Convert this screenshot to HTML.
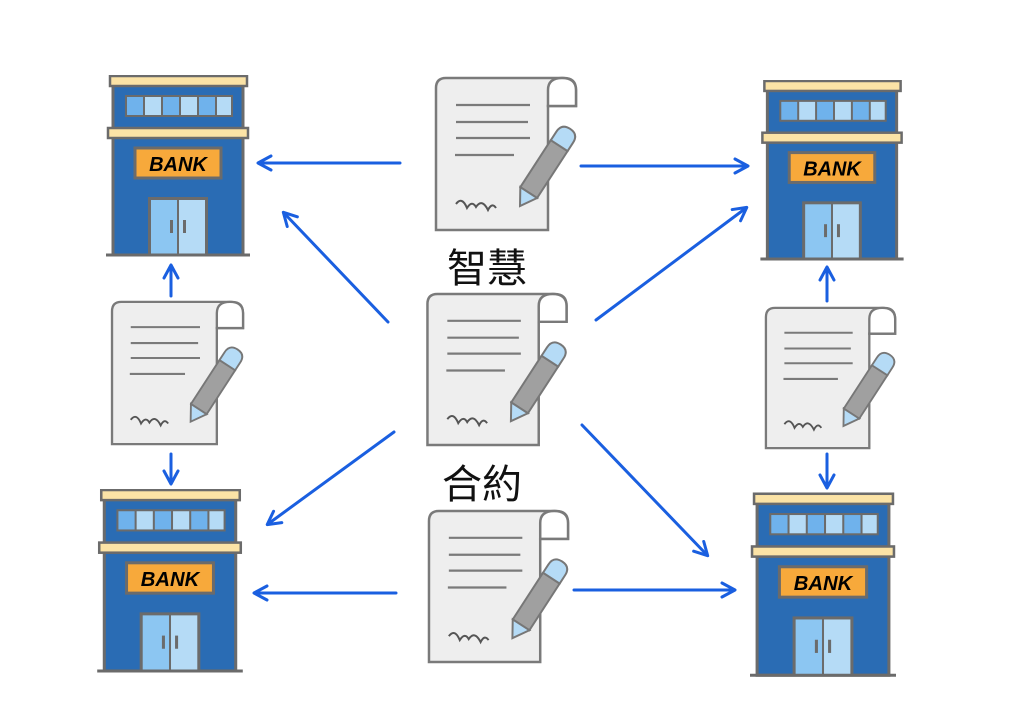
<!DOCTYPE html>
<html><head><meta charset="utf-8"><style>
html,body{margin:0;padding:0;background:#fff;}
svg{display:block;}
</style></head><body>
<svg width="1024" height="724" viewBox="0 0 1024 724" xmlns="http://www.w3.org/2000/svg">
<defs>
<symbol id="bank" viewBox="0 0 144 182">
  <rect x="7" y="10" width="130" height="44" fill="#2a6cb4" stroke="#6b6b6b" stroke-width="3"/>
  <rect x="7" y="62" width="130" height="118" fill="#2a6cb4" stroke="#6b6b6b" stroke-width="3"/>
  <rect x="4" y="1" width="137" height="10" fill="#fbe3a6" stroke="#6b6b6b" stroke-width="2.5"/>
  <rect x="2" y="53" width="140" height="10" fill="#fbe3a6" stroke="#6b6b6b" stroke-width="2.5"/>
  <rect x="19" y="20" width="108" height="22" fill="#6b6b6b"/>
  <rect x="21" y="22" width="16" height="18" fill="#6fb2ec"/>
  <rect x="39" y="22" width="16" height="18" fill="#b5dbf6"/>
  <rect x="57" y="22" width="16" height="18" fill="#6fb2ec"/>
  <rect x="75" y="22" width="16" height="18" fill="#b5dbf6"/>
  <rect x="93" y="22" width="16" height="18" fill="#6fb2ec"/>
  <rect x="111" y="22" width="14" height="18" fill="#b5dbf6"/>
  <rect x="29" y="73" width="86" height="30" fill="#f7a93b" stroke="#6b6b6b" stroke-width="3"/>
  <text x="72" y="96" text-anchor="middle" font-family="Liberation Sans, sans-serif" font-weight="bold" font-style="italic" font-size="20" fill="#000">BANK</text>
  <rect x="42" y="122" width="60" height="58" fill="#6b6b6b"/>
  <rect x="45" y="125" width="26" height="55" fill="#8cc6f2"/>
  <rect x="73" y="125" width="26" height="55" fill="#b5dbf6"/>
  <rect x="64" y="145" width="3" height="13" fill="#6b6b6b"/>
  <rect x="77" y="145" width="3" height="13" fill="#6b6b6b"/>
  <line x1="0" y1="180" x2="144" y2="180" stroke="#6b6b6b" stroke-width="3"/>
</symbol>
<symbol id="doc" viewBox="0 0 145 156">
  <path d="M12 2 H130 Q142 2 142 14 V30 H114 V154 H2 V12 Q2 2 12 2 Z" fill="#eeeeee" stroke="#7a7a7a" stroke-width="2.5"/>
  <path d="M114 30 V14 Q114 2 128 2 Q142 2 142 14 V30 Z" fill="#fff" stroke="#7a7a7a" stroke-width="2.5"/>
  <g stroke="#7a7a7a" stroke-width="2.2">
    <line x1="22" y1="29" x2="96" y2="29"/>
    <line x1="22" y1="46" x2="94" y2="46"/>
    <line x1="22" y1="62" x2="96" y2="62"/>
    <line x1="21" y1="79" x2="80" y2="79"/>
  </g>
  <path d="M22 128 Q28 120 33 132 Q38 124 42 131 Q48 122 54 134 Q58 126 62 132" fill="none" stroke="#555" stroke-width="2"/>
  <g transform="translate(86,130) rotate(-57)">
    <rect x="16" y="-10" width="56" height="20" fill="#a0a0a0" stroke="#777" stroke-width="2"/>
    <path d="M72 -10 H82 Q92 -10 92 0 Q92 10 82 10 H72 Z" fill="#b5dbf6" stroke="#777" stroke-width="2"/>
    <path d="M16 -10 L0 0 L16 10 Z" fill="#b5dbf6" stroke="#777" stroke-width="2"/>
  </g>
</symbol>
<marker id="ah" markerWidth="18" markerHeight="18" refX="14" refY="9" orient="auto" markerUnits="userSpaceOnUse">
  <path d="M2 2 L15 9 L2 16" fill="none" stroke="#1a5fe0" stroke-width="3" stroke-linecap="round" stroke-linejoin="round"/>
</marker>
</defs>

<use href="#bank" x="106" y="75" width="144" height="182"/>
<use href="#bank" x="759" y="80" width="146" height="181"/>
<use href="#bank" x="97" y="489" width="146" height="184"/>
<use href="#bank" x="750" y="492" width="146" height="186"/>

<use href="#doc" x="434" y="76" width="145" height="156"/>
<use href="#doc" x="425" y="292" width="145" height="155"/>
<use href="#doc" x="427" y="509" width="144" height="155"/>
<use href="#doc" x="110" y="300" width="136" height="146"/>
<use href="#doc" x="764" y="306" width="134" height="144"/>

<g stroke="#1a5fe0" stroke-width="3" stroke-linecap="round" marker-end="url(#ah)" fill="none">
  <line x1="400" y1="163" x2="259" y2="163"/>
  <line x1="581" y1="166" x2="747" y2="166"/>
  <line x1="388" y1="322" x2="284" y2="213"/>
  <line x1="596" y1="320" x2="746" y2="208"/>
  <line x1="394" y1="432" x2="268" y2="524"/>
  <line x1="582" y1="425" x2="707" y2="555"/>
  <line x1="396" y1="593" x2="255" y2="593"/>
  <line x1="574" y1="590" x2="734" y2="590"/>
  <line x1="171" y1="296" x2="171" y2="266"/>
  <line x1="171" y1="454" x2="171" y2="483"/>
  <line x1="827" y1="301" x2="827" y2="268"/>
  <line x1="827" y1="454" x2="827" y2="487"/>
</g>

<text x="487" y="282" text-anchor="middle" font-family="Liberation Sans, 'Noto Sans CJK TC', sans-serif" font-size="40" fill="#111">智慧</text>
<text x="482" y="498" text-anchor="middle" font-family="Liberation Sans, 'Noto Sans CJK TC', sans-serif" font-size="40" fill="#111">合約</text>
</svg>
</body></html>
